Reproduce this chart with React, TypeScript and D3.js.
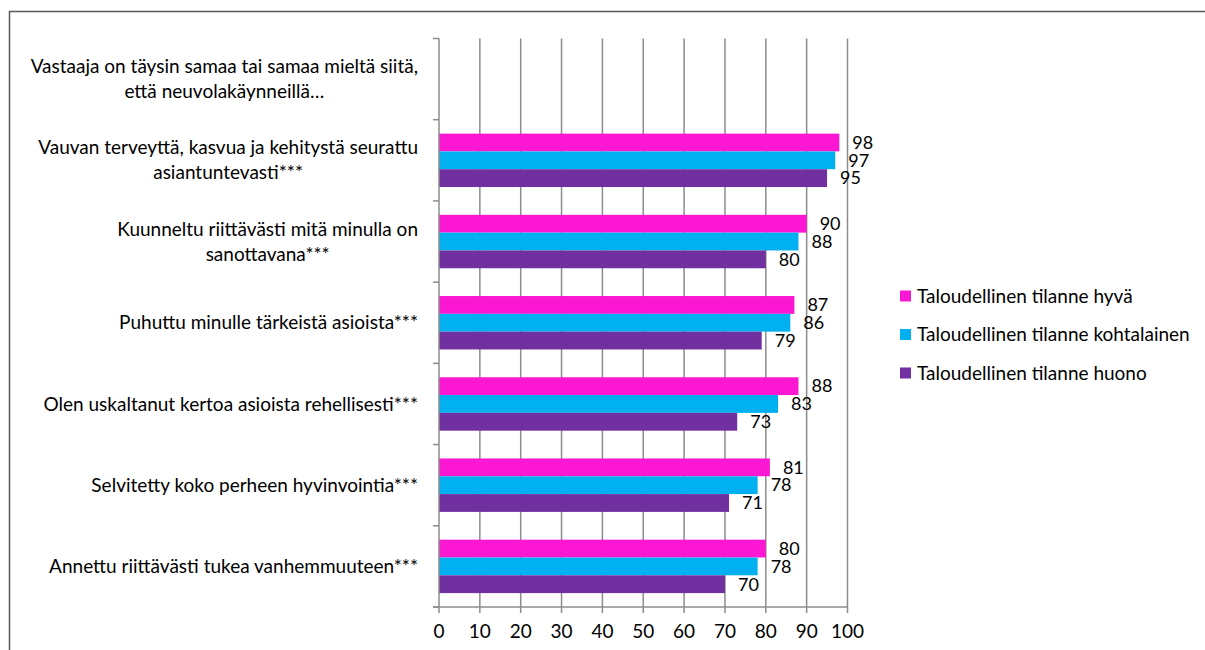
import React, { useRef, useEffect } from "react";
import * as d3 from "d3";

const categoryLines: string[][] = [
    ["Vastaaja on täysin samaa tai samaa mieltä siitä,", "että neuvolakäynneillä…"],
    ["Vauvan terveyttä, kasvua ja kehitystä seurattu", "asiantuntevasti***"],
    ["Kuunneltu riittävästi mitä minulla on", "sanottavana***"],
    ["Puhuttu minulle tärkeistä asioista***"],
    ["Olen uskaltanut kertoa asioista rehellisesti***"],
    ["Selvitetty koko perheen hyvinvointia***"],
    ["Annettu riittävästi tukea vanhemmuuteen***"],
];
const seriesNames = [
    "Taloudellinen tilanne hyvä",
    "Taloudellinen tilanne kohtalainen",
    "Taloudellinen tilanne huono",
];
const seriesColors = ["#FC17D3", "#00B0F0", "#7030A0"];
const hyva = [null, 98, 90, 87, 88, 81, 80];
const kohtalainen = [null, 97, 88, 86, 83, 78, 78];
const huono = [null, 95, 80, 79, 73, 71, 70];
const xTicks = [0, 10, 20, 30, 40, 50, 60, 70, 80, 90, 100];

const FONT = "Lato, Carlito, Calibri, sans-serif";
const FS = 19;

const Chart = () => {
    const svgRef = useRef(null);

    useEffect(() => {
        const svg = d3.select(svgRef.current);
        svg.selectAll("*").remove();

        const plot = { left: 439, right: 847.5, top: 38.5, bottom: 607 };
        const x = d3.scaleLinear().domain([0, 100]).range([plot.left, plot.right]);
        const cats = categoryLines.map((_, i) => String(i));
        const y = d3.scaleBand().domain(cats).range([plot.top, plot.bottom]).padding(0);
        const ys = d3.scaleBand().domain(["0", "1", "2"]).range([0, y.bandwidth()]).paddingInner(0).paddingOuter(0.78);
        const gridColor = "#8C8C8C";

        // outer border
        svg.append("path").attr("d", "M9.5,650 L9.5,11.5 L1205,11.5")
            .attr("fill", "none").attr("stroke", "#5a5a5a").attr("stroke-width", 1.5);

        // gridlines
        svg.append("g").selectAll("line").data(xTicks.slice(1)).enter().append("line")
            .attr("x1", (d) => x(d)).attr("x2", (d) => x(d))
            .attr("y1", plot.top).attr("y2", plot.bottom + 6)
            .attr("stroke", gridColor).attr("stroke-width", 1.5);

        // bars
        const series = [hyva, kohtalainen, huono];
        series.forEach((vals, s) => {
            const g = svg.append("g");
            vals.forEach((v, i) => {
                if (v == null) return;
                const yy = (y(String(i)) as number) + (ys(String(s)) as number);
                g.append("rect")
                    .attr("x", x(0)).attr("y", yy)
                    .attr("width", x(v) - x(0)).attr("height", ys.bandwidth())
                    .attr("fill", seriesColors[s]);
                g.append("text")
                    .attr("x", x(v) + 13).attr("y", yy + ys.bandwidth() / 2)
                    .attr("dy", "0.35em")
                    .attr("font-family", FONT).attr("font-size", 18).attr("fill", "#000")
                    .text(v);
            });
        });

        // left axis
        svg.append("line").attr("x1", plot.left).attr("x2", plot.left)
            .attr("y1", plot.top).attr("y2", plot.bottom + 6)
            .attr("stroke", gridColor).attr("stroke-width", 1.5);
        const bounds = cats.map((c) => y(c) as number).concat([plot.bottom]);
        svg.append("g").selectAll("line").data(bounds).enter().append("line")
            .attr("x1", plot.left - 6).attr("x2", plot.left)
            .attr("y1", (d) => d).attr("y2", (d) => d)
            .attr("stroke", gridColor).attr("stroke-width", 1.5);

        // bottom axis
        svg.append("line").attr("x1", plot.left - 6).attr("x2", plot.right)
            .attr("y1", plot.bottom).attr("y2", plot.bottom)
            .attr("stroke", gridColor).attr("stroke-width", 1.5);
        svg.append("g").selectAll("text").data(xTicks).enter().append("text")
            .attr("x", (d) => x(d)).attr("y", 631).attr("dy", "0.35em")
            .attr("text-anchor", "middle")
            .attr("font-family", FONT).attr("font-size", FS).attr("fill", "#000")
            .text((d) => d);

        // category labels, block right-aligned, lines centered
        const labelRight = 418;
        const lineH = 25;
        categoryLines.forEach((lines, i) => {
            const cy = (y(String(i)) as number) + y.bandwidth() / 2;
            const texts = lines.map((ln, k) =>
                svg.append("text")
                    .attr("y", cy + (k - (lines.length - 1) / 2) * lineH)
                    .attr("dy", "0.35em")
                    .attr("text-anchor", "middle")
                    .attr("font-family", FONT).attr("font-size", FS).attr("fill", "#000")
                    .text(ln)
            );
            const w = d3.max(texts, (t) => (t.node() as SVGTextElement).getComputedTextLength()) || 0;
            texts.forEach((t) => t.attr("x", labelRight - w / 2));
        });

        // legend
        const legend = svg.append("g");
        seriesNames.forEach((name, i) => {
            const ly = 296 + i * 38.5;
            legend.append("rect").attr("x", 900).attr("y", ly - 5.5)
                .attr("width", 11).attr("height", 11).attr("fill", seriesColors[i]);
            legend.append("text").attr("x", 917).attr("y", ly).attr("dy", "0.35em")
                .attr("font-family", FONT).attr("font-size", FS).attr("fill", "#000")
                .text(name);
        });
    }, []);

    return (
        <svg ref={svgRef} width={1205} height={650}
            style={{ position: "absolute", left: 0, top: 0, background: "#fff" }} />
    );
};

export default function App() {
    return <Chart />;
}
